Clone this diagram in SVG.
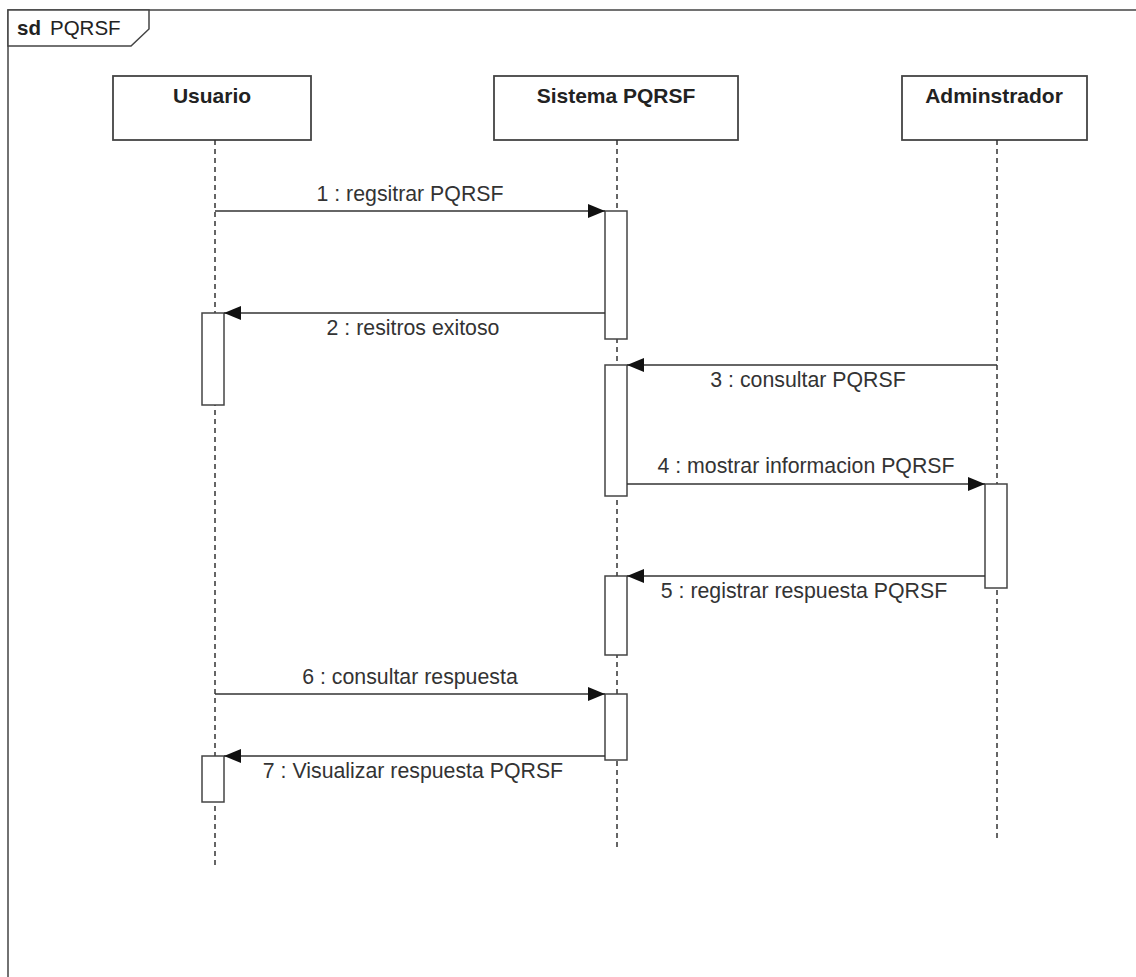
<svg xmlns="http://www.w3.org/2000/svg" width="1136" height="977" viewBox="0 0 1136 977">
  <style>
    .frame { fill: none; stroke: #444; stroke-width: 1.5; }
    .tab { fill: #fff; stroke: #444; stroke-width: 1.5; }
    .head { fill: #fff; stroke: #444; stroke-width: 1.8; }
    .headtxt { font-family: "Liberation Sans", Arial, sans-serif; font-size: 21px; font-weight: bold; fill: #222; text-anchor: middle; }
    .life { stroke: #333; stroke-width: 1.5; stroke-dasharray: 5 4; fill: none; }
    .act { fill: #fff; stroke: #444; stroke-width: 1.5; }
    .msg { stroke: #333; stroke-width: 1.5; fill: none; marker-end: url(#head); }
    .lbl { font-family: "Liberation Sans", Arial, sans-serif; font-size: 21.3px; fill: #333; text-anchor: middle; }
  </style>
  <defs>
    <marker id="head" markerUnits="userSpaceOnUse" markerWidth="18" markerHeight="16" refX="17" refY="7" orient="auto">
      <path d="M0,0 L17,7 L0,14 Z" fill="#111"/>
    </marker>
  </defs>

  <rect width="1136" height="977" fill="#fff"/>

  <!-- sequence frame -->
  <g id="frame">
    <rect class="frame" x="8" y="10" width="1200" height="1000"/>
    <path class="tab" d="M8,10 H149 V29 L131,46 H8 Z"/>
    <text x="17" y="35" font-family="Liberation Sans, Arial, sans-serif" font-size="20.5px" font-weight="bold" fill="#222">sd</text>
    <text x="50" y="35" font-family="Liberation Sans, Arial, sans-serif" font-size="20.5px" fill="#222">PQRSF</text>
  </g>

  <!-- lifelines -->
  <g id="usuario">
    <rect class="head" x="113" y="76" width="198" height="64"/>
    <text class="headtxt" x="212" y="103">Usuario</text>
    <line class="life" x1="215" y1="140" x2="215" y2="866"/>
  </g>
  <g id="sistema">
    <rect class="head" x="494" y="76" width="244" height="64"/>
    <text class="headtxt" x="616" y="103">Sistema PQRSF</text>
    <line class="life" x1="617" y1="140" x2="617" y2="848"/>
  </g>
  <g id="administrador">
    <rect class="head" x="902" y="76" width="185" height="64"/>
    <text class="headtxt" x="994" y="103">Adminstrador</text>
    <line class="life" x1="997" y1="140" x2="997" y2="838"/>
  </g>

  <!-- activation bars -->
  <g id="activations">
    <rect class="act" x="605" y="211" width="22" height="128"/>
    <rect class="act" x="202" y="313" width="22" height="92"/>
    <rect class="act" x="605" y="365" width="22" height="131"/>
    <rect class="act" x="985" y="484" width="22" height="104"/>
    <rect class="act" x="605" y="576" width="22" height="79"/>
    <rect class="act" x="605" y="694" width="22" height="66"/>
    <rect class="act" x="202" y="756" width="22" height="46"/>
  </g>

  <!-- messages -->
  <g id="connectors">
    <line class="msg" x1="215" y1="211" x2="605" y2="211"/>
    <text class="lbl" x="410" y="201">1 : regsitrar PQRSF</text>

    <line class="msg" x1="605" y1="313" x2="224" y2="313"/>
    <text class="lbl" x="413" y="335">2 : resitros exitoso</text>

    <line class="msg" x1="997" y1="365" x2="627" y2="365"/>
    <text class="lbl" x="808" y="387">3 : consultar PQRSF</text>

    <line class="msg" x1="627" y1="484" x2="985" y2="484"/>
    <text class="lbl" x="806" y="473">4 : mostrar informacion PQRSF</text>

    <line class="msg" x1="985" y1="576" x2="627" y2="576"/>
    <text class="lbl" x="804" y="598">5 : registrar respuesta PQRSF</text>

    <line class="msg" x1="215" y1="694" x2="605" y2="694"/>
    <text class="lbl" x="410" y="684">6 : consultar respuesta</text>

    <line class="msg" x1="605" y1="756" x2="224" y2="756"/>
    <text class="lbl" x="413" y="778">7 : Visualizar respuesta PQRSF</text>
  </g>
</svg>
